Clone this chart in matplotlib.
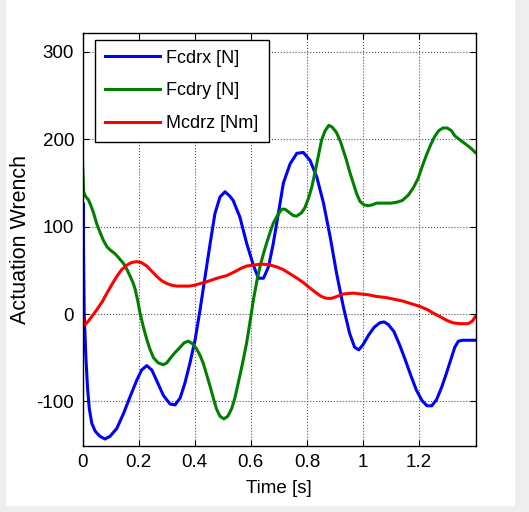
import matplotlib
matplotlib.use("Agg")
import matplotlib.pyplot as plt
import matplotlib.patches as patches

plt.rcParams['font.family'] = ['Liberation Sans', 'DejaVu Sans']
plt.rcParams['axes.unicode_minus'] = False

# Fcdrx [N]
t_x = [0.0, 0.002, 0.006, 0.012, 0.018, 0.024, 0.033, 0.045, 0.062, 0.08, 0.098,
       0.122, 0.146, 0.169, 0.193, 0.211, 0.229, 0.247, 0.264, 0.288, 0.312, 0.33,
       0.348, 0.365, 0.383, 0.401, 0.419, 0.437, 0.455, 0.472, 0.49, 0.508, 0.525,
       0.537, 0.561, 0.585, 0.609, 0.627, 0.645, 0.663, 0.68, 0.698, 0.716, 0.74,
       0.764, 0.787, 0.811, 0.835, 0.859, 0.883, 0.906, 0.93, 0.952, 0.97, 0.985,
       1.0, 1.02, 1.04, 1.06, 1.075, 1.09, 1.11, 1.13, 1.15, 1.17, 1.19, 1.21,
       1.228, 1.245, 1.262, 1.28, 1.297, 1.313, 1.327, 1.34, 1.355, 1.37, 1.385, 1.40]
fx = [-30, 127, 0, -50, -85, -108, -125, -134, -140, -143, -140,
      -131, -114, -95, -76, -64, -59, -64, -76, -93, -103, -104,
      -96, -79, -56, -30, 5, 43, 81, 115, 134, 140, 135,
      130, 111, 81, 56, 41, 41, 54, 81, 115, 150, 172,
      184, 185, 176, 157, 127, 88, 46, 8, -22, -38, -41,
      -35, -24, -15, -10, -9, -12, -20, -35, -52, -70, -87, -99,
      -105, -105, -98, -84, -68, -52, -38, -31, -30, -30, -30, -30]

# Fcdry [N]
t_y = [0.0, 0.004, 0.012, 0.021, 0.03, 0.039, 0.05, 0.063, 0.075, 0.087, 0.1,
       0.116, 0.13, 0.146, 0.16, 0.17, 0.18, 0.188, 0.197, 0.205, 0.217, 0.229,
       0.24, 0.253, 0.27, 0.288, 0.3, 0.312, 0.33, 0.348, 0.362, 0.377, 0.392,
       0.407, 0.42, 0.431, 0.443, 0.455, 0.467, 0.478, 0.49, 0.504, 0.518, 0.532,
       0.544, 0.555, 0.57, 0.585, 0.597, 0.609, 0.621, 0.633, 0.645, 0.656, 0.668,
       0.68, 0.695, 0.71, 0.722, 0.734, 0.75, 0.763, 0.781, 0.793, 0.805, 0.817,
       0.828, 0.84, 0.852, 0.865, 0.878, 0.89, 0.905, 0.92, 0.931, 0.941, 0.953,
       0.965, 0.977, 0.989, 1.003, 1.018, 1.033, 1.048, 1.063, 1.078, 1.1, 1.12,
       1.14, 1.161, 1.18, 1.196, 1.212, 1.226, 1.24, 1.255, 1.27, 1.285, 1.3,
       1.315, 1.327, 1.339, 1.355, 1.368, 1.384, 1.40]
fy = [173, 140, 134, 131, 124, 116, 104, 93, 84, 77, 73,
      69, 64, 58, 50, 43, 36, 28, 15, 1, -15, -29,
      -40, -50, -56, -58, -56, -51, -44, -38, -33, -31, -34,
      -40, -48, -57, -70, -83, -97, -109, -117, -120, -117, -108,
      -95, -79, -57, -33, -9, 16, 37, 55, 69, 81, 93,
      104, 113, 120, 120, 117, 113, 112, 116, 122, 132, 145,
      161, 180, 199, 210, 216, 214, 208, 197, 186, 176, 162,
      150, 138, 129, 125, 124, 125, 127, 127, 127, 127, 128,
      130, 136, 145, 155, 170, 182, 193, 203, 210, 213, 213,
      210, 204, 201, 197, 194, 190, 185]

# Mcdrz [Nm]
t_m = [0.0, 0.004, 0.01, 0.021, 0.035, 0.051, 0.07, 0.087, 0.105, 0.122, 0.14,
       0.158, 0.175, 0.193, 0.21, 0.229, 0.247, 0.265, 0.283, 0.30, 0.318, 0.336,
       0.36, 0.38, 0.40, 0.42, 0.443, 0.47, 0.49, 0.514, 0.54, 0.563, 0.585, 0.61,
       0.63, 0.65, 0.67, 0.692, 0.715, 0.74, 0.765, 0.787, 0.81, 0.834, 0.852,
       0.87, 0.888, 0.906, 0.93, 0.965, 0.99, 1.02, 1.05, 1.08, 1.11, 1.14, 1.17,
       1.20, 1.23, 1.25, 1.275, 1.297, 1.32, 1.345, 1.375, 1.39, 1.40]
mz = [0, -13, -12, -8, -2, 5, 14, 24, 34, 43, 51,
      56, 59, 60, 59, 55, 49, 43, 38, 35, 33, 32,
      32, 32, 33, 35, 37, 40, 42, 44, 48, 52, 55, 56,
      57, 57, 56, 54, 51, 46, 41, 36, 30, 24, 20,
      18, 18, 20, 23, 24, 23, 22, 20, 19, 17, 15, 12,
      9, 5, 1, -3, -7, -10, -11, -11, -8, -3]

xticks = [0, 0.2, 0.4, 0.6, 0.8, 1.0, 1.2]
xticklabels = ['0', '0.2', '0.4', '0.6', '0.8', '1', '1.2']
yticks = [-100, 0, 100, 200, 300]

fig = plt.figure(figsize=(5.29, 5.12), dpi=100)
# light gray frame around the picture
fig.patches.append(patches.Rectangle((0, 0), 1, 1, transform=fig.transFigure,
                                     facecolor='#eeeeee', edgecolor='none', zorder=-2))
fig.patches.append(patches.Rectangle((0.011, 0.012), 0.962, 0.988, transform=fig.transFigure,
                                     facecolor='white', edgecolor='none', zorder=-1))

ax = fig.add_axes([0.156, 0.129, 0.744, 0.807])
ax.plot(t_x, fx, color='#0000ff', lw=2.2, label='Fcdrx [N]')
ax.plot(t_y, fy, color='#007f00', lw=2.2, label='Fcdry [N]')
ax.plot(t_m, mz, color='#ff0000', lw=2.2, label='Mcdrz [Nm]')

ax.set_xlim(0, 1.403)
ax.set_ylim(-151, 322)
ax.set_xticks(xticks)
ax.set_xticklabels(xticklabels)
ax.set_yticks(yticks)
ax.grid(True, linestyle=':', color='#555555', lw=0.8)
ax.tick_params(direction='in', top=True, right=True, length=4, labelsize=13.5, pad=6)
for s in ax.spines.values():
    s.set_linewidth(1.0)

ax.set_xlabel('Time [s]', fontsize=13.5, labelpad=6)
ax.set_ylabel('Actuation Wrench', fontsize=15.5, labelpad=4)

leg = ax.legend(loc='upper left', bbox_to_anchor=(0.032, 0.983), borderaxespad=0,
                fontsize=13, fancybox=False, framealpha=1, edgecolor='black',
                handlelength=3.05, handletextpad=0.35, borderpad=0.55,
                labelspacing=0.87)
leg.get_frame().set_linewidth(1.0)

fig.savefig('out.png', dpi=100)
